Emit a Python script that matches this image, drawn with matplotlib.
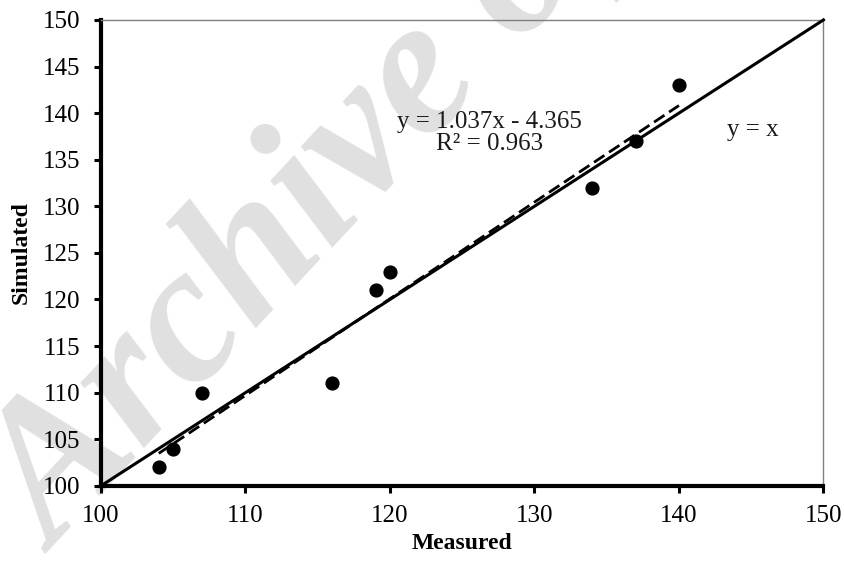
import numpy as np
import matplotlib.pyplot as plt

# measured vs simulated values
measured = [104, 105, 107, 116, 119, 120, 134, 137, 140]
simulated = [102, 104, 110, 111, 121, 123, 132, 137, 143]

# trendline as printed on the chart
slope = 1.037
intercept = -4.365
r2 = 0.963

ticks = [100, 110, 120, 130, 140, 150]
yticks = [100, 105, 110, 115, 120, 125, 130, 135, 140, 145, 150]

plt.rcParams['font.family'] = ['Liberation Serif', 'DejaVu Serif']

fig = plt.figure(figsize=(8.45, 5.61), dpi=100)
ax = fig.add_axes([0.1195, 0.134, 0.855, 0.8305])
ax.patch.set_alpha(0)

# watermark behind the plot
fig.text(0.066, 0.011, "Archive of SID", rotation=47, rotation_mode='anchor',
         fontsize=142, fontweight='bold', fontstyle='italic', color='#e0e0e0',
         ha='left', va='baseline', zorder=-5)

# 1:1 line
ax.plot([100, 150], [100, 150], color='black', lw=2.2, clip_on=False, zorder=3)

# linear trend (dashed)
xt = np.array([min(measured), max(measured)])
ax.plot(xt, slope * xt + intercept, color='black', lw=2, ls=(0, (4.5, 2)), zorder=3)

ax.scatter(measured, simulated, s=85, color='black', zorder=4, clip_on=False)

ax.set_xlim(100, 150)
ax.set_ylim(100, 150)
ax.set_xticks(ticks)
ax.set_yticks(yticks)
ax.tick_params(direction='out', length=5, width=2.2, labelsize=18)
ax.tick_params(axis='y', pad=10)
ax.tick_params(axis='x', pad=9)

for side in ['left', 'bottom']:
    ax.spines[side].set_linewidth(3)
for side in ['top', 'right']:
    ax.spines[side].set_linewidth(1)
    ax.spines[side].set_color('#808080')

ax.set_xlabel('Measured', fontsize=17, fontweight='bold', labelpad=4)
ax.set_ylabel('Simulated', fontsize=17, fontweight='bold', labelpad=8)

ax.text(126.9, 137.9, f'y = {slope}x - {abs(intercept)}\nR\u00b2 = {r2}',
        fontsize=18, ha='center', va='center', color='#1a1a1a', linespacing=1.0)
ax.text(145.1, 138.2, 'y = x', fontsize=18, ha='center', va='center', color='#1a1a1a')

fig.savefig('out.png', dpi=100)
